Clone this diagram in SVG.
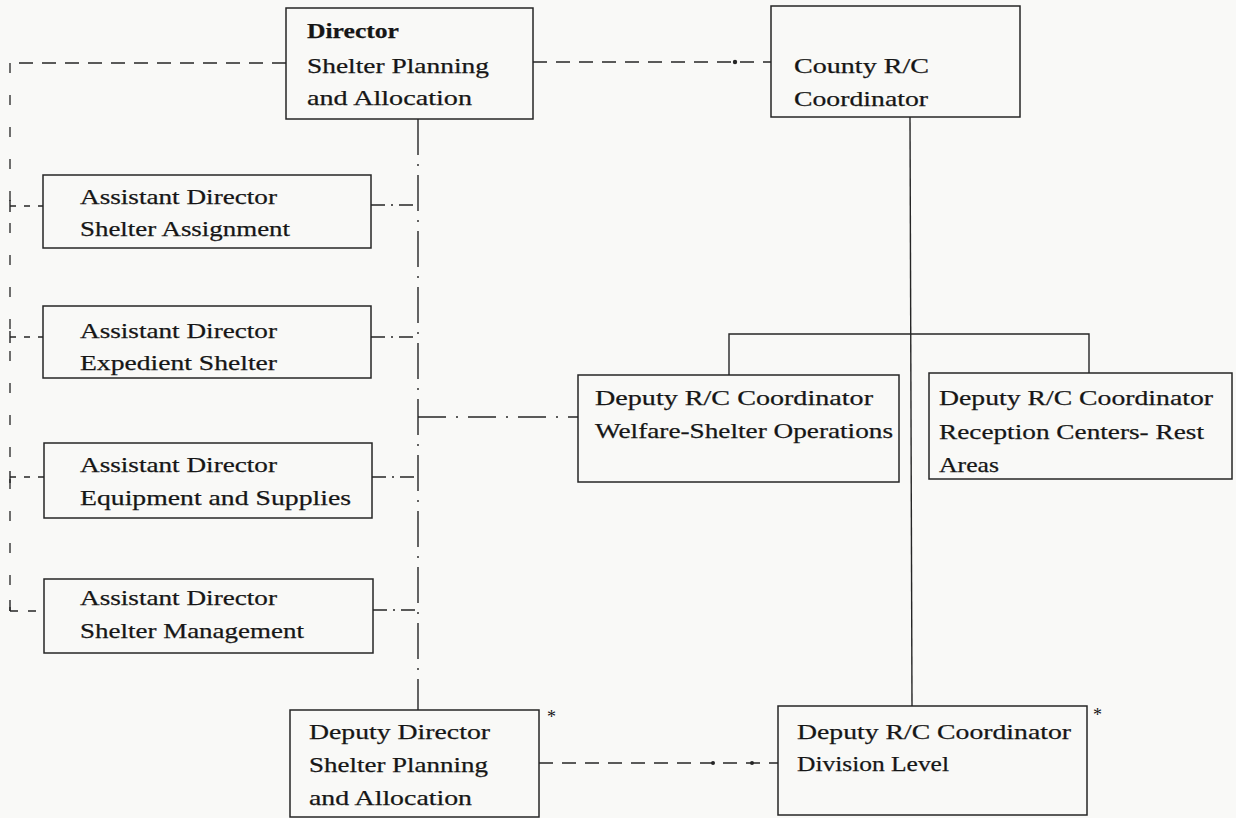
<svg xmlns="http://www.w3.org/2000/svg" width="1236" height="818" viewBox="0 0 1236 818">
<style>
.bg{fill:#f9f9f7}
.box{fill:none;stroke:#262626;stroke-width:1.5}
.t{font-family:"Liberation Serif","Times New Roman",serif;font-size:22px;fill:#161616;stroke:#161616;stroke-width:0.25}
.b{font-weight:bold}
.ast{font-family:"Liberation Serif","Times New Roman",serif;font-size:18px;fill:#161616}
.solid{fill:none;stroke:#262626;stroke-width:1.4}
.dh{fill:none;stroke:#262626;stroke-width:1.4;stroke-dasharray:14 9}
.dv{fill:none;stroke:#262626;stroke-width:1.3;stroke-dasharray:10 22}
.dd{fill:none;stroke:#262626;stroke-width:1.4;stroke-dasharray:36 9 2 9}
.ddh{fill:none;stroke:#262626;stroke-width:1.4;stroke-dasharray:14 6 2 6}
.dw{fill:none;stroke:#262626;stroke-width:1.4;stroke-dasharray:28 10 2 10}
.dot{fill:#262626}
</style>
<rect class="bg" x="0" y="0" width="1236" height="818"/>

<g id="connectors">
  <line class="dh" x1="533" y1="62" x2="771" y2="62"/>
  <circle class="dot" cx="735" cy="62" r="2.2"/>
  <line class="dh" x1="286" y1="63" x2="10" y2="63"/>
  <line class="dv" x1="10" y1="63" x2="10" y2="611"/>
  <line class="dh" x1="10" y1="611" x2="44" y2="611" style="stroke-dasharray:8 10"/>
  <line class="dh" x1="10" y1="206" x2="43" y2="206" style="stroke-dasharray:6 8"/>
  <line class="dh" x1="10" y1="337" x2="43" y2="337" style="stroke-dasharray:6 8"/>
  <line class="dh" x1="10" y1="477" x2="44" y2="477" style="stroke-dasharray:6 8"/>
  <line class="solid" x1="10" y1="200" x2="10" y2="212"/>
  <line class="solid" x1="10" y1="331" x2="10" y2="343"/>
  <line class="solid" x1="10" y1="471" x2="10" y2="483"/>
  <line class="solid" x1="10" y1="600" x2="10" y2="611"/>
  <line class="dd" x1="418" y1="119" x2="418" y2="710"/>
  <line class="ddh" x1="371" y1="205" x2="418" y2="205"/>
  <line class="ddh" x1="371" y1="337" x2="418" y2="337"/>
  <line class="ddh" x1="372" y1="477" x2="418" y2="477"/>
  <line class="ddh" x1="373" y1="610" x2="418" y2="610"/>
  <line class="dw" x1="418" y1="417" x2="578" y2="417"/>
  <line class="solid" x1="910" y1="117" x2="912" y2="706"/>
  <polyline class="solid" points="729,375 729,334 1089,334 1089,373"/>
  <line class="dh" x1="539" y1="763" x2="778" y2="763"/>
  <circle class="dot" cx="713" cy="763" r="2"/>
  <circle class="dot" cx="752" cy="763" r="2"/>
</g>

<g id="director">
  <rect class="box" x="286" y="8" width="247" height="111"/>
  <text class="t b" x="307" y="38" textLength="92" lengthAdjust="spacingAndGlyphs">Director</text>
  <text class="t" x="307" y="73" textLength="182" lengthAdjust="spacingAndGlyphs">Shelter Planning</text>
  <text class="t" x="307" y="105" textLength="165" lengthAdjust="spacingAndGlyphs">and Allocation</text>
</g>

<g id="county">
  <rect class="box" x="771" y="6" width="249" height="111"/>
  <text class="t" x="794" y="73" textLength="135" lengthAdjust="spacingAndGlyphs">County R/C</text>
  <text class="t" x="794" y="106" textLength="134" lengthAdjust="spacingAndGlyphs">Coordinator</text>
</g>

<g id="asst-assignment">
  <rect class="box" x="43" y="175" width="328" height="73"/>
  <text class="t" x="80" y="204" textLength="197" lengthAdjust="spacingAndGlyphs">Assistant Director</text>
  <text class="t" x="80" y="236" textLength="210" lengthAdjust="spacingAndGlyphs">Shelter Assignment</text>
</g>

<g id="asst-expedient">
  <rect class="box" x="43" y="306" width="328" height="72"/>
  <text class="t" x="80" y="338" textLength="197" lengthAdjust="spacingAndGlyphs">Assistant Director</text>
  <text class="t" x="80" y="370" textLength="197" lengthAdjust="spacingAndGlyphs">Expedient Shelter</text>
</g>

<g id="asst-equipment">
  <rect class="box" x="44" y="443" width="328" height="75"/>
  <text class="t" x="80" y="472" textLength="197" lengthAdjust="spacingAndGlyphs">Assistant Director</text>
  <text class="t" x="80" y="505" textLength="271" lengthAdjust="spacingAndGlyphs">Equipment and Supplies</text>
</g>

<g id="asst-management">
  <rect class="box" x="44" y="579" width="329" height="74"/>
  <text class="t" x="80" y="605" textLength="197" lengthAdjust="spacingAndGlyphs">Assistant Director</text>
  <text class="t" x="80" y="638" textLength="224" lengthAdjust="spacingAndGlyphs">Shelter Management</text>
</g>

<g id="deputy-welfare">
  <rect class="box" x="578" y="375" width="321" height="107"/>
  <text class="t" x="595" y="405" textLength="278" lengthAdjust="spacingAndGlyphs">Deputy R/C Coordinator</text>
  <text class="t" x="595" y="438" textLength="298" lengthAdjust="spacingAndGlyphs">Welfare-Shelter Operations</text>
</g>

<g id="deputy-reception">
  <rect class="box" x="929" y="373" width="303" height="106"/>
  <text class="t" x="939" y="405" textLength="274" lengthAdjust="spacingAndGlyphs">Deputy R/C Coordinator</text>
  <text class="t" x="939" y="439" textLength="265" lengthAdjust="spacingAndGlyphs">Reception Centers- Rest</text>
  <text class="t" x="939" y="472" textLength="60" lengthAdjust="spacingAndGlyphs">Areas</text>
</g>

<g id="deputy-director">
  <rect class="box" x="290" y="710" width="249" height="107"/>
  <text class="t" x="309" y="739" textLength="181" lengthAdjust="spacingAndGlyphs">Deputy Director</text>
  <text class="t" x="309" y="772" textLength="179" lengthAdjust="spacingAndGlyphs">Shelter Planning</text>
  <text class="t" x="309" y="805" textLength="163" lengthAdjust="spacingAndGlyphs">and Allocation</text>
  <text class="ast" x="547" y="723">*</text>
</g>

<g id="deputy-division">
  <rect class="box" x="778" y="706" width="309" height="109"/>
  <text class="t" x="797" y="739" textLength="274" lengthAdjust="spacingAndGlyphs">Deputy R/C Coordinator</text>
  <text class="t" x="797" y="771" textLength="152" lengthAdjust="spacingAndGlyphs">Division Level</text>
  <text class="ast" x="1093" y="721">*</text>
</g>
</svg>
